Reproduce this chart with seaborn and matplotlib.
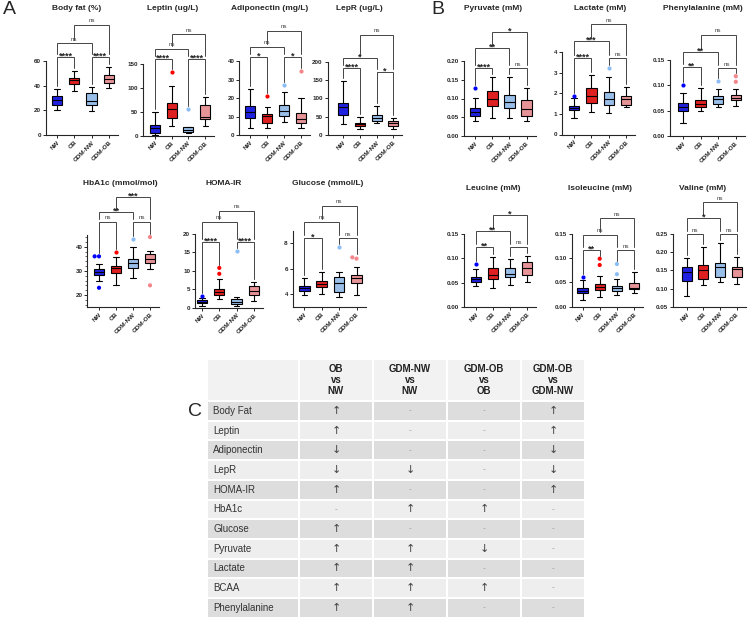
import numpy as np
import pandas as pd
import matplotlib
matplotlib.use("Agg")
import matplotlib.pyplot as plt
from matplotlib.ticker import FixedLocator
import seaborn as sns

sns.set_style("ticks")
plt.rcParams['font.family'] = ['Liberation Sans', 'DejaVu Sans']

W, H = 750, 623
groups = ["NW", "OB", "GDM-NW", "GDM-OB"]
colors = {"NW": "#0000FF", "OB": "#FF0000", "GDM-NW": "#8CBDF5", "GDM-OB": "#F4868B"}
pairs = [(0, 1), (2, 3), (0, 2), (1, 3)]

# per group: low whisker, Q1, median, Q3, high whisker
body_fat = [[20, 24.1, 28.4, 31.9, 37.3], [35.7, 41.4, 44.3, 46.5, 52.2],
            [19.5, 24.1, 27.6, 34.3, 38.9], [37.9, 41.9, 45.7, 48.9, 54.9]]
body_fat_out = [[], [], [], []]
body_fat_sig = ["****", "****", "ns", "ns"]

leptin = [[2, 6, 15, 22, 49], [20, 36, 55.6, 67.4, 103],
          [4.9, 8.3, 12.5, 17.4, 18.8], [20, 34, 39.4, 63, 81]]
leptin_out = [[], [132.6], [56.3], []]
leptin_sig = ["****", "****", "ns", "ns"]

adipo = [[4, 9, 12.6, 15.7, 24.6], [3.6, 6.3, 10.3, 11.4, 15.3],
         [7.2, 10.3, 13, 16.2, 23.4], [4, 6.7, 8.6, 11.7, 19.8]]
adipo_out = [[], [21.1], [27], [34.6]]
adipo_sig = ["*", "*", "ns", "ns"]

lepr = [[30, 55, 77, 86, 147], [15.5, 25, 29, 34, 50],
        [32, 39, 45.6, 54.6, 80], [15.5, 24.5, 32, 39, 45.5]]
lepr_out = [[], [], [], []]
lepr_sig = ["****", "*", "*", "ns"]

hba1c = [[26, 28.1, 29.7, 30.8, 32.9], [24.2, 29, 31.1, 32, 35.9],
         [27, 31.1, 33.2, 35, 40], [30.8, 33.4, 35, 36.9, 38.3]]
hba1c_out = [[36, 36, 23], [38], [43], [44, 24]]
hba1c_sig = ["ns", "ns", "**", "***"]

homa = [[0.45, 1.2, 1.5, 2.1, 2.7], [2.35, 3.4, 4.3, 5.2, 7.7],
        [0.55, 1.0, 1.6, 2.3, 2.8], [1.9, 3.4, 4.5, 5.9, 7.1]]
homa_out = [[3.3], [10.8, 9.2], [15.5], []]
homa_sig = ["****", "****", "ns", "ns"]

glucose = [[3.92, 4.26, 4.5, 4.66, 5.29], [4.0, 4.53, 4.79, 5.0, 5.76],
           [3.79, 4.13, 4.89, 5.37, 5.76], [3.92, 4.84, 5.24, 5.53, 6.16]]
glucose_out = [[], [], [7.68], [6.79, 6.89]]
glucose_sig = ["*", "ns", "ns", "ns"]

pyruvate = [[0.040, 0.054, 0.065, 0.074, 0.101], [0.049, 0.080, 0.099, 0.121, 0.157],
            [0.049, 0.074, 0.092, 0.110, 0.157], [0.041, 0.054, 0.071, 0.095, 0.128]]
pyruvate_out = [[0.128], [], [], []]
pyruvate_sig = ["****", "ns", "**", "*"]

lactate = [[0.82, 1.17, 1.28, 1.40, 1.78], [1.09, 1.53, 1.86, 2.24, 2.90],
           [1.04, 1.42, 1.74, 2.07, 2.80], [1.33, 1.45, 1.70, 1.89, 2.32]]
lactate_out = [[1.86], [], [3.21], []]
lactate_sig = ["****", "ns", "***", "ns"]

phe = [[0.026, 0.050, 0.058, 0.066, 0.0855], [0.049, 0.058, 0.063, 0.072, 0.094],
       [0.057, 0.063, 0.073, 0.078, 0.092], [0.060, 0.071, 0.0757, 0.081, 0.092]]
phe_out = [[0.101], [], [0.109], [0.118, 0.107]]
phe_sig = ["**", "ns", "**", "ns"]

leucine = [[0.043, 0.051, 0.057, 0.061, 0.078], [0.038, 0.057, 0.066, 0.080, 0.102],
           [0.045, 0.0625, 0.067, 0.080, 0.099], [0.052, 0.066, 0.080, 0.092, 0.1055]]
leucine_out = [[0.089], [], [], []]
leucine_sig = ["**", "ns", "**", "*"]

isoleucine = [[0.014, 0.0275, 0.032, 0.038, 0.056], [0.021, 0.034, 0.041, 0.047, 0.064],
              [0.024, 0.033, 0.038, 0.043, 0.058], [0.0275, 0.036, 0.039, 0.0495, 0.072]]
isoleucine_out = [[0.062], [0.099, 0.086], [0.088, 0.067], []]
isoleucine_sig = ["**", "ns", "ns", "ns"]

valine = [[0.079, 0.121, 0.1445, 0.158, 0.185], [0.110, 0.125, 0.151, 0.165, 0.215],
          [0.117, 0.1325, 0.160, 0.169, 0.226], [0.1115, 0.1325, 0.153, 0.160, 0.186]]
valine_out = [[], [], [], []]
valine_sig = ["ns", "ns", "*", "ns"]

panels = [
    ("Body fat (%)", body_fat, body_fat_out, body_fat_sig, (0, 60), [0, 20, 40, 60], 0),
    ("Leptin (ug/L)", leptin, leptin_out, leptin_sig, (0, 150), [0, 50, 100, 150], 0),
    ("Adiponectin (mg/L)", adipo, adipo_out, adipo_sig, (0, 40), [0, 10, 20, 30, 40], 0),
    ("LepR (ug/L)", lepr, lepr_out, lepr_sig, (0, 200), [0, 50, 100, 150, 200], 0),
    ("HbA1c (mmol/mol)", hba1c, hba1c_out, hba1c_sig, (15, 45), [20, 30, 40], 0),
    ("HOMA-IR", homa, homa_out, homa_sig, (0, 20), [0, 5, 10, 15, 20], 0),
    ("Glucose (mmol/L)", glucose, glucose_out, glucose_sig, (3, 9), [4, 6, 8], 0),
    ("Pyruvate (mM)", pyruvate, pyruvate_out, pyruvate_sig, (0, 0.2), [0, 0.05, 0.10, 0.15, 0.20], 2),
    ("Lactate (mM)", lactate, lactate_out, lactate_sig, (0, 4), [0, 1, 2, 3, 4], 0),
    ("Phenylalanine (mM)", phe, phe_out, phe_sig, (0, 0.15), [0, 0.05, 0.10, 0.15], 2),
    ("Leucine (mM)", leucine, leucine_out, leucine_sig, (0, 0.15), [0, 0.05, 0.10, 0.15], 2),
    ("Isoleucine (mM)", isoleucine, isoleucine_out, isoleucine_sig, (0, 0.15), [0, 0.05, 0.10, 0.15], 2),
    ("Valine (mM)", valine, valine_out, valine_sig, (0.05, 0.25), [0.05, 0.10, 0.15, 0.20, 0.25], 2),
]

# layout in pixels: axis x, first box x, box step, y of ymin, y of ymax,
# title x, title y, bracket levels
layout = [
    (46, 57, 17.3, 135, 61, 77, 9, (57.3, 57.3, 43.3, 25)),
    (142.7, 155, 16.7, 135.5, 63.7, 172.5, 9, (59.3, 59.3, 49, 34)),
    (239.3, 250.3, 16.9, 135, 61, 270, 9, (56.7, 56.7, 46.7, 30.7)),
    (327.5, 343.3, 16.7, 135, 61.7, 359, 9, (68.3, 71.7, 58.3, 35)),
    (87.3, 99, 17, 307.1, 234.6, 120.5, 183.3, (221.7, 221.7, 211.7, 196.7)),
    (195, 202, 17.3, 307.7, 234, 224, 183.3, (241.7, 241.7, 221.7, 210.7)),
    (292.7, 304.3, 17.4, 306.7, 230.6, 327.5, 183.3, (238.3, 238.3, 221.7, 205.7)),
    (464.3, 475.3, 17.1, 136, 61, 493, 9, (68.3, 68.3, 47.7, 32.3)),
    (562, 574, 17.4, 134.5, 52, 600, 9, (58.3, 58.3, 41, 24)),
    (670, 683, 17.6, 136, 60, 703, 9, (66.7, 68.3, 51.7, 35)),
    (464, 475.7, 17.2, 306.7, 234.3, 493.5, 188.3, (246.7, 246.7, 231, 215)),
    (572, 582.5, 17.2, 306.7, 234, 599.5, 188.3, (250, 250, 235, 218.3)),
    (673.3, 686.7, 16.7, 306.7, 234, 703, 188.3, (234, 234, 218.3, 202.3)),
]

fig = plt.figure(figsize=(7.5, 6.23), dpi=100)


def draw_panel(panel, lay):
    name, stats, outs, sig, yr, ticks, dec = panel
    axl, x0, dx, yp0, yp1, tx, ty, levels = lay
    ymin, ymax = yr
    upp = (ymax - ymin) / (yp0 - yp1)
    xr = x0 + 3 * dx + 9
    top_px = ty + 7
    ax = fig.add_axes([axl / W, 1 - yp0 / H, (xr - axl) / W, (yp0 - top_px) / H])
    df = pd.DataFrame({"group": np.repeat(groups, 5), "value": np.concatenate(stats)})
    sns.boxplot(data=df, x="group", y="value", hue="group", order=groups, hue_order=groups,
                palette=colors, whis=(0, 100), showfliers=False, width=0.6,
                linecolor="black", linewidth=0.8, legend=False, ax=ax)
    odf = pd.DataFrame([(g, v) for g, vals in zip(groups, outs) for v in vals],
                       columns=["group", "value"])
    if len(odf):
        sns.swarmplot(data=odf, x="group", y="value", hue="group", order=groups,
                      hue_order=groups, palette=colors, size=3, legend=False, ax=ax)
    ax.set_xlim((axl - x0) / dx, (xr - x0) / dx)
    ax.set_ylim(ymin, ymin + (yp0 - top_px) * upp)
    ax.set_xlabel("")
    ax.set_ylabel("")
    sns.despine(ax=ax)
    ax.spines["left"].set_bounds(ymin, ymax)
    for s in ("left", "bottom"):
        ax.spines[s].set_linewidth(0.8)
    ax.set_yticks(ticks)
    ax.set_yticklabels([f"{t:.{dec}f}" for t in ticks])
    ax.tick_params(labelsize=4.5, length=2.5, width=0.7, pad=1)
    if name.startswith("HbA1c"):
        ax.yaxis.set_minor_locator(FixedLocator(np.arange(16, 45, 2)))
        ax.tick_params(which="minor", length=1.5, width=0.5)
    for lbl in ax.get_xticklabels():
        lbl.set_rotation(45)
        lbl.set_ha("right")
        lbl.set_rotation_mode("anchor")
        lbl.set_fontweight("bold")
    for lbl in ax.get_yticklabels():
        lbl.set_fontweight("bold")

    tops = [max([st[4]] + list(o)) for st, o in zip(stats, outs)]
    bars = [(a, b, ymin + (yp0 - lv) * upp) for (a, b), lv in zip(pairs, levels)]
    for (a, b, y), label in zip(bars, sig):
        ends = []
        for x in (a, b):
            obs = [tops[x]] + [yy for (aa, bb, yy) in bars if yy < y - 1e-12 and aa <= x <= bb]
            ends.append(min(max(obs) + 3 * upp, y - 2 * upp))
        ax.plot([a, a, b, b], [ends[0], y, y, ends[1]], color="#444444", lw=0.7,
                clip_on=False, solid_joinstyle="miter")
        if "*" in label:
            ax.text((a + b) / 2, y - 1.5 * upp, label, ha="center", va="baseline",
                    fontsize=6.5, fontweight="bold", color="#222222")
        else:
            ax.text((a + b) / 2, y + 2.5 * upp, label, ha="center", va="baseline",
                    fontsize=4.5, color="#444444")
    fig.text(tx / W, 1 - ty / H, name, ha="center", va="center",
             fontsize=6, fontweight="bold")


for p, lay in zip(panels, layout):
    draw_panel(p, lay)

fig.text(3 / W, 1 - 10 / H, "A", fontsize=14, va="center")
fig.text(431 / W, 1 - 9 / H, "B", fontsize=14, va="center")
fig.text(188 / W, 1 - 411 / H, "C", fontsize=14, va="center")

# summary table
table_cols = ["OB\nvs\nNW", "GDM-NW\nvs\nNW", "GDM-OB\nvs\nOB", "GDM-OB\nvs\nGDM-NW"]
table_rows = ["Body Fat", "Leptin", "Adiponectin", "LepR", "HOMA-IR", "HbA1c", "Glucose",
              "Pyruvate", "Lactate", "BCAA", "Phenylalanine"]
table_vals = [
    ["↑", "-", "-", "↑"],
    ["↑", "-", "-", "↑"],
    ["↓", "-", "-", "↓"],
    ["↓", "↓", "-", "↓"],
    ["↑", "-", "-", "↑"],
    ["-", "↑", "↑", "-"],
    ["↑", "-", "-", "-"],
    ["↑", "↑", "↓", "-"],
    ["↑", "↑", "-", "-"],
    ["↑", "↑", "↑", "-"],
    ["↑", "↑", "-", "-"],
]

tx0, tx1, ty0, ty1 = 208, 584, 360, 620
tax = fig.add_axes([tx0 / W, 1 - ty1 / H, (tx1 - tx0) / W, (ty1 - ty0) / H])
tax.set_xlim(tx0, tx1)
tax.set_ylim(ty1, ty0)
tax.axis("off")
lefts = [208, 300, 374, 448, 522]
rights = [298, 372, 446, 520, 584]
widths = [r - l for l, r in zip(lefts, rights)]
centers = [(l + r) / 2 for l, r in zip(lefts, rights)]
head_h, row0, pitch, row_h = 40, 402, 19.7, 17.7

tax.barh([ty0 + head_h / 2] * 5, widths, left=lefts, height=head_h, color="#F2F2F2", linewidth=0)
for j, c in enumerate(table_cols):
    tax.text(centers[j + 1], ty0 + head_h / 2, c, ha="center", va="center", fontsize=7,
             fontweight="bold", linespacing=1.15, color="#222222")
for i, (rname, vals) in enumerate(zip(table_rows, table_vals)):
    yc = row0 + i * pitch + row_h / 2
    shade = "#DDDDDD" if i % 2 == 0 else "#EEEEEE"
    tax.barh([yc] * 5, widths, left=lefts, height=row_h, color=shade, linewidth=0)
    tax.text(lefts[0] + 5, yc, rname, ha="left", va="center", fontsize=7, color="#333333")
    for j, v in enumerate(vals):
        if v == "-":
            tax.text(centers[j + 1], yc, v, ha="center", va="center", fontsize=6, color="#999999")
        else:
            tax.text(centers[j + 1], yc, v, ha="center", va="center", fontsize=8,
                     color="#444444", family=["DejaVu Sans"])

fig.savefig("out.png", dpi=100)
